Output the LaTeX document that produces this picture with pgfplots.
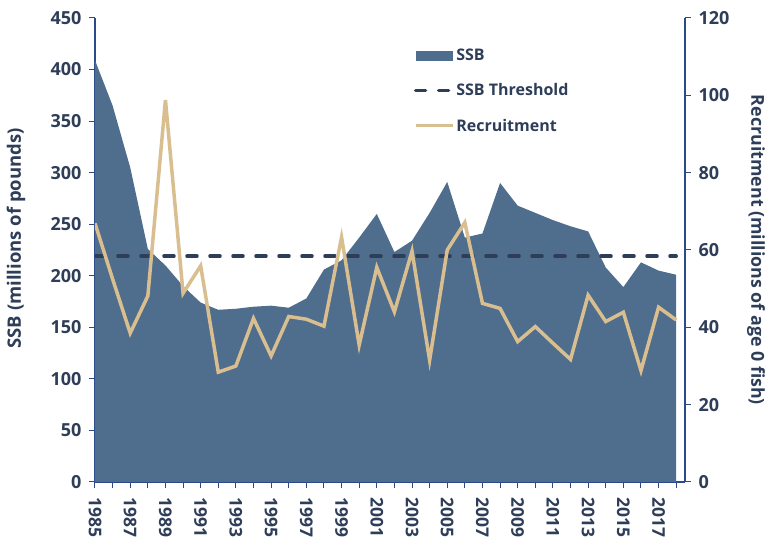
\documentclass[border=0pt]{standalone}
\usepackage{fontspec}
\setmainfont{Open Sans}
\usepackage{pgfplots}
\pgfplotsset{compat=1.18}
\definecolor{ssb}{HTML}{4F6D8D}
\definecolor{rec}{HTML}{D9BF8F}
\definecolor{dark}{HTML}{2E3D58}
\definecolor{axblue}{HTML}{2A4A8A}
\pgfplotsset{
  common/.style={
    scale only axis, width=590pt, height=464pt,
    xmin=1985, xmax=2018.5,
    tick align=outside, major tick length=6pt, minor tick length=6pt,
    /pgf/number format/assume math mode=true,
    /pgf/number format/1000 sep={},
    tick label style={font=\fontsize{18}{21}\selectfont\bfseries, text=dark},
    label style={font=\fontsize{18.5}{22}\selectfont\bfseries, text=dark},
    axis line style={axblue, line width=1.2pt},
    tick style={axblue, line width=1pt},
    yticklabel shift=4pt,
  }
}
\begin{document}
\begin{tikzpicture}
\useasboundingbox (-95pt,-58pt) rectangle (671pt,482pt);
\begin{axis}[common,
  ymin=0, ymax=450,
  axis y line*=left, axis x line*=bottom,
  ytick={0,50,...,450},
  xtick={1985,1987,...,2017}, minor xtick={1986,1988,...,2018},
  xticklabel style={rotate=-90, anchor=west, font=\fontsize{17.5}{21}\selectfont\bfseries},
  xticklabel shift=6pt,
  ylabel={SSB (millions of pounds)},
  ylabel style={at={(axis description cs:-0.134,0.525)}, anchor=center},
  legend image code/.code={\draw[#1] (0pt,0pt) -- (37pt,0pt);},
  legend style={at={(0.535,0.942)}, anchor=north west, draw=none, fill=none,
    font=\fontsize{16}{19}\selectfont\bfseries, text=dark, row sep=17.5pt,
    nodes={inner sep=2pt}},
  legend cell align=left,
]
\addplot[fill=ssb, draw=none,
  legend image code/.code={\fill[ssb] (0pt,-5pt) rectangle (37pt,5pt);}]
coordinates {
(1985,409) (1986,365) (1987,305) (1988,226) (1989,210) (1990,190) (1991,174)
(1992,167) (1993,168) (1994,170) (1995,171) (1996,169) (1997,178) (1998,206)
(1999,215) (2000,237) (2001,260) (2002,223) (2003,234) (2004,261) (2005,291)
(2006,237) (2007,241) (2008,290) (2009,268) (2010,261) (2011,254) (2012,248)
(2013,243) (2014,208) (2015,189) (2016,213) (2017,205) (2018,201)
} \closedcycle;
\addlegendentry{SSB}
\addplot[dark, line width=3.5pt, dash pattern=on 10pt off 13pt, line cap=round]
coordinates {(1985,219) (2018,219)};
\addlegendentry{SSB Threshold}
\addlegendimage{rec, line width=3.5pt}
\addlegendentry{Recruitment}
\end{axis}
\begin{axis}[common,
  ymin=0, ymax=120,
  axis y line*=right, axis x line=none,
  ytick={0,20,...,120},
  ylabel={Recruitment (millions of age 0 fish)},
  ylabel style={at={(axis description cs:1.1203,0.5)}, anchor=center, rotate=180,
    font=\fontsize{17.8}{21}\selectfont\bfseries},
]
\addplot[rec, line width=3.5pt, line join=miter, mark=none]
coordinates {
(1985,66.9) (1986,52.5) (1987,38.5) (1988,48.1) (1989,98.8) (1990,48.8) (1991,55.9)
(1992,28.4) (1993,30.0) (1994,42.3) (1995,32.6) (1996,42.8) (1997,42.1) (1998,40.3)
(1999,63.3) (2000,35.4) (2001,55.5) (2002,44.0) (2003,59.7) (2004,31.5) (2005,60.0)
(2006,67.1) (2007,46.2) (2008,44.9) (2009,36.3) (2010,40.2) (2011,35.9) (2012,31.7)
(2013,48.3) (2014,41.5) (2015,43.9) (2016,28.8) (2017,45.2) (2018,41.9)
};
\end{axis}
\end{tikzpicture}
\end{document}
